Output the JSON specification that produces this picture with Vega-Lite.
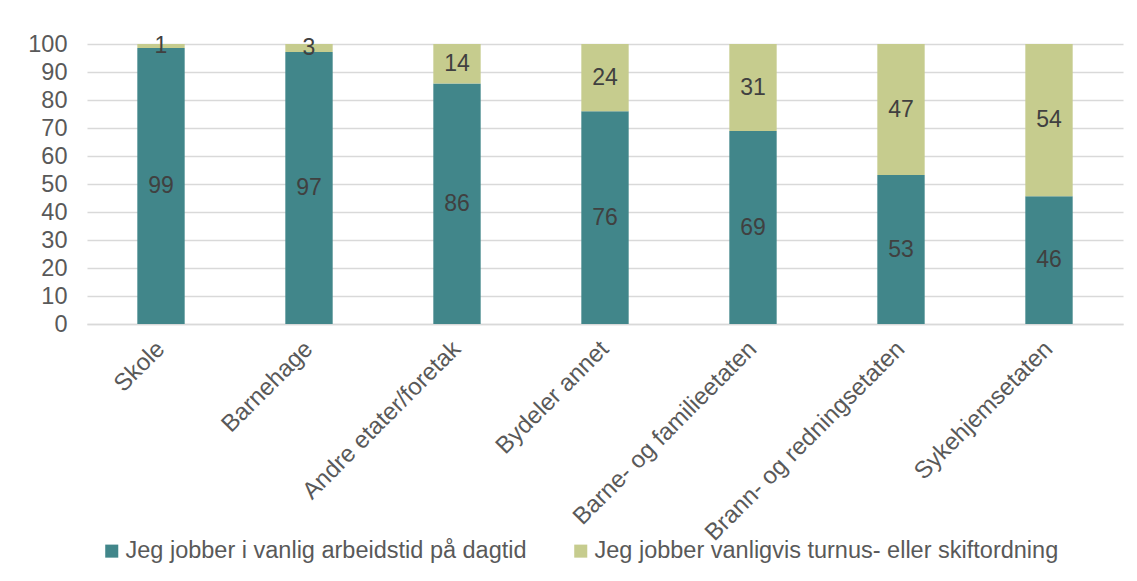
{
  "$schema": "https://vega.github.io/schema/vega-lite/v6.json",
  "width": 1036,
  "height": 280,
  "autosize": {"type": "none"},
  "padding": {"left": 87, "top": 44, "right": 14, "bottom": 257},
  "background": "white",
  "config": {
    "font": "Liberation Sans",
    "view": {"stroke": null}
  },
  "data": {
    "values": [
      {"enhet": "Skole", "type": "Jeg jobber i vanlig arbeidstid på dagtid", "verdi": 98.6},
      {"enhet": "Skole", "type": "Jeg jobber vanligvis turnus- eller skiftordning", "verdi": 1.4},
      {"enhet": "Barnehage", "type": "Jeg jobber i vanlig arbeidstid på dagtid", "verdi": 97.1},
      {"enhet": "Barnehage", "type": "Jeg jobber vanligvis turnus- eller skiftordning", "verdi": 2.9},
      {"enhet": "Andre etater/foretak", "type": "Jeg jobber i vanlig arbeidstid på dagtid", "verdi": 85.9},
      {"enhet": "Andre etater/foretak", "type": "Jeg jobber vanligvis turnus- eller skiftordning", "verdi": 14.1},
      {"enhet": "Bydeler annet", "type": "Jeg jobber i vanlig arbeidstid på dagtid", "verdi": 76},
      {"enhet": "Bydeler annet", "type": "Jeg jobber vanligvis turnus- eller skiftordning", "verdi": 24},
      {"enhet": "Barne- og familieetaten", "type": "Jeg jobber i vanlig arbeidstid på dagtid", "verdi": 68.9},
      {"enhet": "Barne- og familieetaten", "type": "Jeg jobber vanligvis turnus- eller skiftordning", "verdi": 31.1},
      {"enhet": "Brann- og redningsetaten", "type": "Jeg jobber i vanlig arbeidstid på dagtid", "verdi": 53.2},
      {"enhet": "Brann- og redningsetaten", "type": "Jeg jobber vanligvis turnus- eller skiftordning", "verdi": 46.8},
      {"enhet": "Sykehjemsetaten", "type": "Jeg jobber i vanlig arbeidstid på dagtid", "verdi": 45.6},
      {"enhet": "Sykehjemsetaten", "type": "Jeg jobber vanligvis turnus- eller skiftordning", "verdi": 54.4}
    ]
  },
  "transform": [
    {"stack": "verdi", "groupby": ["enhet"], "sort": [{"field": "type", "order": "ascending"}], "as": ["y0", "y1"]},
    {"calculate": "(datum.y0 + datum.y1) / 2", "as": "midt"}
  ],
  "encoding": {
    "x": {
      "field": "enhet",
      "type": "nominal",
      "sort": ["Skole", "Barnehage", "Andre etater/foretak", "Bydeler annet", "Barne- og familieetaten", "Brann- og redningsetaten", "Sykehjemsetaten"],
      "title": null,
      "scale": {"paddingInner": 0.68, "paddingOuter": 0.34},
      "axis": {
        "labelAngle": -45,
        "labelAlign": "right",
        "labelBaseline": "middle",
        "labelFontSize": 24,
        "labelColor": "#595959",
        "labelPadding": 21,
        "labelLimit": 0,
        "labelOverlap": false,
        "ticks": false,
        "domainColor": "#D9D9D9",
        "domainWidth": 1.5
      }
    }
  },
  "layer": [
    {
      "mark": {"type": "bar"},
      "encoding": {
        "y": {
          "field": "y0",
          "type": "quantitative",
          "scale": {"domain": [0, 100], "nice": false},
          "title": null,
          "axis": {
            "values": [0, 10, 20, 30, 40, 50, 60, 70, 80, 90, 100],
            "labelFontSize": 23.5,
            "labelColor": "#595959",
            "labelPadding": 20,
            "labelOverlap": false,
            "labelFlush": false,
            "ticks": false,
            "domain": false,
            "gridColor": "#D9D9D9",
            "gridWidth": 1.5
          }
        },
        "y2": {"field": "y1"},
        "color": {
          "field": "type",
          "type": "nominal",
          "scale": {
            "domain": ["Jeg jobber i vanlig arbeidstid på dagtid", "Jeg jobber vanligvis turnus- eller skiftordning"],
            "range": ["#41868A", "#C6CC8E"]
          },
          "legend": {
            "title": null,
            "orient": "none",
            "legendX": 13,
            "legendY": 495,
            "direction": "horizontal",
            "columns": 2,
            "symbolType": "square",
            "symbolSize": 170,
            "symbolStrokeWidth": 0,
            "labelFontSize": 23.5,
            "labelColor": "#595959",
            "labelLimit": 600,
            "columnPadding": 42,
            "labelOffset": 2
          }
        }
      }
    },
    {
      "mark": {"type": "text", "fontSize": 23, "color": "#404040", "baseline": "middle"},
      "encoding": {
        "y": {
          "field": "midt",
          "type": "quantitative",
          "scale": {"domain": [0, 100], "nice": false},
          "title": null,
          "axis": {
            "values": [0, 10, 20, 30, 40, 50, 60, 70, 80, 90, 100],
            "labelFontSize": 23.5,
            "labelColor": "#595959",
            "labelPadding": 20,
            "labelOverlap": false,
            "labelFlush": false,
            "ticks": false,
            "domain": false,
            "gridColor": "#D9D9D9",
            "gridWidth": 1.5
          }
        },
        "text": {"field": "verdi", "type": "quantitative", "format": ".0f"}
      }
    }
  ]
}
